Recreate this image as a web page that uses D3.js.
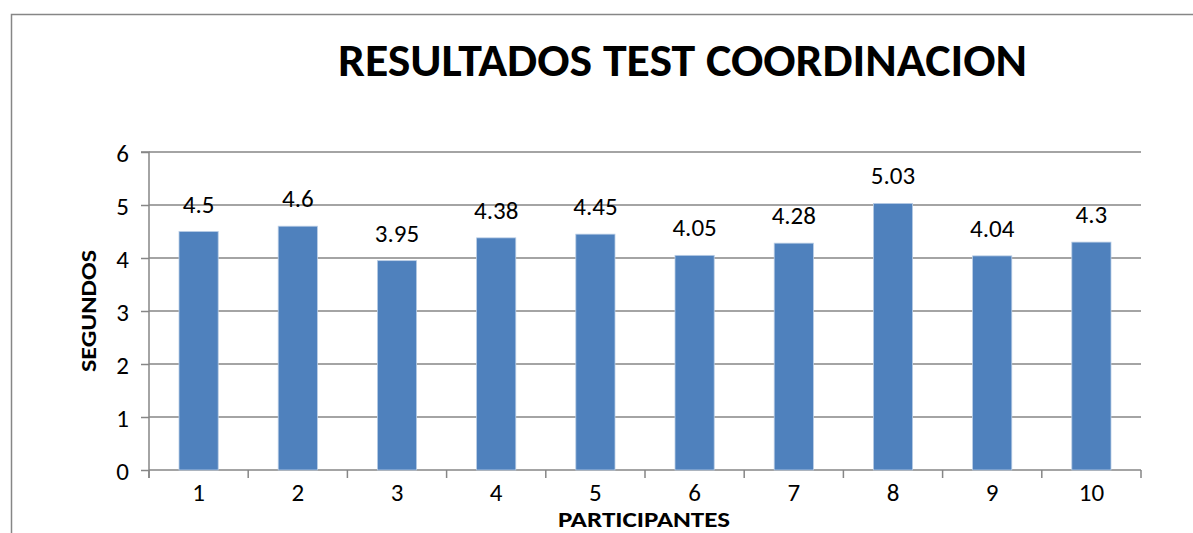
<!DOCTYPE html>
<html><head><meta charset="utf-8">
<script src="https://cdn.jsdelivr.net/npm/d3@7"></script>
<style>body{margin:0;background:#fff}svg{display:block}text{font-family:Carlito,Calibri,Lato,sans-serif}</style>
</head><body>
<svg id="c" width="1193" height="533"></svg>
<script>
const categories = ["1","2","3","4","5","6","7","8","9","10"];
const values = [4.5, 4.6, 3.95, 4.38, 4.45, 4.05, 4.28, 5.03, 4.04, 4.3];
const valueLabels = ["4.5","4.6","3.95","4.38","4.45","4.05","4.28","5.03","4.04","4.3"];
const yTicks = [0,1,2,3,4,5,6];
const title = "RESULTADOS TEST COORDINACION";
const xTitle = "PARTICIPANTES";
const yTitle = "SEGUNDOS";

(function(){
const svg = d3.select("#c");
const W = 1193, H = 533;
const pL = 149, pR = 1141, pT = 152, pB = 470;
const grey = "#868686";
const ff = "Carlito,Calibri,Lato,sans-serif";

// outer frame
svg.append("path").attr("d", `M11.5,${H+5} V14.5 H${W+5}`).attr("fill","none").attr("stroke",grey).attr("stroke-width",1.5);

const x = d3.scaleBand().domain(categories).range([pL, pR]).padding(0);
const y = d3.scaleLinear().domain([0,6]).range([pB, pT]);

// gridlines
svg.append("g").selectAll("line").data(yTicks.filter(d=>d>0)).join("line")
  .attr("x1", pL).attr("x2", pR).attr("y1", d=>y(d)).attr("y2", d=>y(d))
  .attr("stroke", grey).attr("stroke-width",1.5);

// y axis
const ya = svg.append("g").attr("transform",`translate(${pL},0)`)
  .call(d3.axisLeft(y).tickValues(yTicks).tickSize(8).tickPadding(12).tickFormat(d3.format("d")));
ya.attr("font-size",null).attr("font-family",null);
ya.select(".domain").attr("stroke",grey).attr("stroke-width",1.5).attr("d",`M-8,${pT}H0V${pB+8}`);
ya.selectAll(".tick line").attr("stroke",grey).attr("stroke-width",1.5);
ya.selectAll(".tick text").style("font-size","25px").attr("fill","#000").style("font-family",ff).attr("dy","0.36em");

// x axis
const xa = svg.append("g").attr("transform",`translate(0,${pB})`)
  .call(d3.axisBottom(x).tickSize(0).tickPadding(26));
xa.attr("font-size",null).attr("font-family",null);
xa.select(".domain").attr("stroke",grey).attr("stroke-width",1.5).attr("d",`M${pL},0H${pR}`);
xa.selectAll(".tick text").style("font-size","25px").attr("fill","#000").style("font-family",ff).attr("dy","0.2em");
// category boundary ticks
const bounds = categories.map(c=>x(c)).concat([pR]);
svg.append("g").selectAll("line").data(bounds).join("line")
  .attr("x1",d=>d).attr("x2",d=>d).attr("y1",pB).attr("y2",pB+8)
  .attr("stroke",grey).attr("stroke-width",1.5);

// bars
const bw = x.bandwidth()*0.395;
svg.append("g").selectAll("rect").data(values).join("rect")
  .attr("x",(d,i)=>x(categories[i]) + x.bandwidth()/2 - bw/2)
  .attr("y",d=>y(d)).attr("width",bw).attr("height",d=>pB - y(d))
  .attr("fill","#4F81BD").attr("stroke","#b9cde5").attr("stroke-width",0.8);

// value labels
svg.append("g").selectAll("text").data(values).join("text")
  .attr("x",(d,i)=>x(categories[i]) + x.bandwidth()/2)
  .attr("y",d=>y(d) - 19).attr("text-anchor","middle").style("font-size","25px").attr("fill","#000")
  .text((d,i)=>valueLabels[i]);

// titles
svg.append("text").attr("x",682.5).attr("y",76).attr("text-anchor","middle")
  .style("font-size","46px").attr("font-weight","bold").attr("fill","#000")
  .attr("textLength",689).attr("lengthAdjust","spacingAndGlyphs").text(title);
svg.append("text").attr("x",644).attr("y",527).attr("text-anchor","middle")
  .style("font-size","23px").attr("font-weight","bold").attr("fill","#000")
  .attr("textLength",172).attr("lengthAdjust","spacingAndGlyphs").text(xTitle);
svg.append("text").attr("transform","translate(96,311) rotate(-90)").attr("text-anchor","middle")
  .style("font-size","23px").attr("font-weight","bold").attr("fill","#000")
  .attr("textLength",122).attr("lengthAdjust","spacingAndGlyphs").text(yTitle);
})();
</script>
</body></html>
